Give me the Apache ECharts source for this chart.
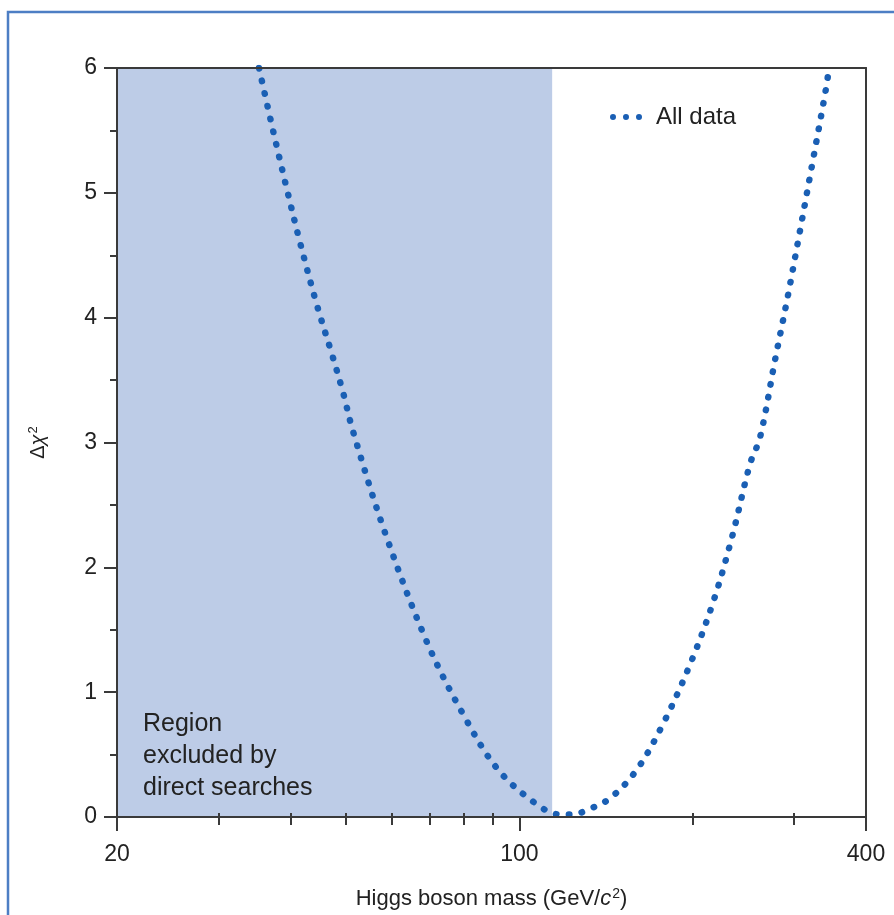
<!DOCTYPE html>
<html>
<head>
<meta charset="utf-8">
<script src="https://cdn.jsdelivr.net/npm/echarts@6/dist/echarts.min.js"></script>
<style>html,body{margin:0;padding:0;background:#fff;}#c{width:894px;height:915px;}</style>
</head>
<body>
<div id="c"></div>
<script>
// Higgs boson mass (GeV/c^2) and delta chi^2
const massValues = [35.3, 37.2, 39.5, 41.6, 44.5, 47.3, 49.4, 51.4, 58.4, 69.1, 79.8, 91.8, 107.3, 117.7, 123.9, 131, 143.7, 160, 177.6, 197.8, 217, 234, 251.6, 261.8, 278, 292.8, 307, 322, 341, 345];
const chi2Values = [6.0, 5.53, 5.02, 4.6, 4.1, 3.7, 3.40, 3.09, 2.28, 1.40, 0.825, 0.38, 0.10, 0.02, 0.02, 0.056, 0.15, 0.38, 0.745, 1.22, 1.72, 2.24, 2.83, 3.04, 3.66, 4.18, 4.69, 5.21, 5.84, 6.0];
const excludedRange = [20, 114];
const xMajorTicks = [20, 100, 400];
const xMinorTicks = [30, 40, 50, 60, 70, 80, 90, 200, 300];
const yRange = [0, 6];
const seriesName = 'All data';
const regionText = 'Region\nexcluded by\ndirect searches';

const FONT = '"Liberation Sans", Arial, Helvetica, sans-serif';
const AXIS_COLOR = '#3a3a3a';
const TEXT_COLOR = '#222';
const DOT_COLOR = '#1a5fb4';

const chart = echarts.init(document.getElementById('c'), null, {renderer: 'canvas'});
const lineData = massValues.map((m, i) => [m, chi2Values[i]]);

const option = {
  backgroundColor: '#fff',
  animation: false,
  textStyle: {fontFamily: FONT},
  grid: {left: 117, right: 28, top: 68, bottom: 98, containLabel: false},
  legend: {
    left: 605, top: 100,
    data: [{name: seriesName, icon: 'path://M0,3a3,3 0 1,0 6,0a3,3 0 1,0 -6,0zM13,3a3,3 0 1,0 6,0a3,3 0 1,0 -6,0zM26,3a3,3 0 1,0 6,0a3,3 0 1,0 -6,0z'}],
    itemWidth: 32, itemHeight: 6,
    itemStyle: {color: DOT_COLOR},
    textStyle: {fontFamily: FONT, fontSize: 24, color: TEXT_COLOR, padding: [0, 0, 0, 9]}
  },
  xAxis: [
    {
      type: 'log', logBase: 10, min: 20, max: 400, position: 'bottom', z: 5,
      axisLine: {show: true, lineStyle: {color: AXIS_COLOR, width: 2}},
      axisTick: {show: true, customValues: xMajorTicks, length: 14, lineStyle: {color: AXIS_COLOR, width: 2}},
      axisLabel: {show: true, customValues: xMajorTicks, margin: 26, fontSize: 23, color: TEXT_COLOR, fontFamily: FONT},
      splitLine: {show: false}, minorTick: {show: false}, minorSplitLine: {show: false},
      name: '{t|Higgs boson mass (GeV/}{i|c}{s|2}{t|)}',
      nameLocation: 'middle', nameGap: 70,
      nameTextStyle: {
        rich: {
          t: {fontSize: 22, color: TEXT_COLOR, fontFamily: FONT},
          i: {fontSize: 22, color: TEXT_COLOR, fontFamily: FONT, fontStyle: 'italic'},
          s: {fontSize: 14, color: TEXT_COLOR, fontFamily: FONT, verticalAlign: 'top', padding: [0, 0, 10, 1]}
        }
      }
    },
    {
      type: 'log', logBase: 10, min: 20, max: 400, position: 'bottom', offset: -4, z: 5,
      axisLine: {show: false},
      axisTick: {show: true, customValues: xMinorTicks, length: 12, lineStyle: {color: AXIS_COLOR, width: 2}},
      axisLabel: {show: false},
      splitLine: {show: false}
    },
    {
      type: 'log', logBase: 10, min: 20, max: 400, position: 'top', z: 5,
      axisLine: {show: true, lineStyle: {color: AXIS_COLOR, width: 2}},
      axisTick: {show: false}, axisLabel: {show: false}, splitLine: {show: false}
    }
  ],
  yAxis: [
    {
      type: 'value', min: yRange[0], max: yRange[1], interval: 1, position: 'left', z: 5,
      axisLine: {show: true, lineStyle: {color: AXIS_COLOR, width: 2}},
      axisTick: {show: true, length: 13, lineStyle: {color: AXIS_COLOR, width: 2}},
      minorTick: {show: true, splitNumber: 2, length: 7, lineStyle: {color: AXIS_COLOR, width: 2}},
      axisLabel: {margin: 20, fontSize: 23, color: TEXT_COLOR, fontFamily: FONT},
      splitLine: {show: false},
      name: '{t|Δ}{i|χ}{s|2}',
      nameLocation: 'middle', nameRotate: 90, nameGap: 68,
      nameTextStyle: {
        rich: {
          t: {fontSize: 20, color: TEXT_COLOR, fontFamily: FONT},
          i: {fontSize: 20, color: TEXT_COLOR, fontFamily: FONT, fontStyle: 'italic'},
          s: {fontSize: 13, color: TEXT_COLOR, fontFamily: FONT, verticalAlign: 'top', padding: [0, 0, 9, 1]}
        }
      }
    },
    {
      type: 'value', min: yRange[0], max: yRange[1], position: 'right', z: 5,
      axisLine: {show: true, lineStyle: {color: AXIS_COLOR, width: 2}},
      axisTick: {show: false}, axisLabel: {show: false}, splitLine: {show: false}
    }
  ],
  series: [
    {
      name: seriesName,
      type: 'line',
      xAxisIndex: 0, yAxisIndex: 0,
      data: lineData,
      smooth: 0.35,
      showSymbol: false,
      symbol: 'none',
      clip: true,
      z: 3,
      lineStyle: {color: DOT_COLOR, width: 6.5, type: [0.5, 12.5], cap: 'round'},
      itemStyle: {color: DOT_COLOR},
      markArea: {
        silent: true,
        itemStyle: {color: '#bdcce7', opacity: 1},
        label: {show: false},
        data: [[{xAxis: excludedRange[0]}, {xAxis: excludedRange[1]}]]
      }
    }
  ],
  graphic: [
    {
      type: 'rect', silent: true, z: 100,
      shape: {x: 8, y: 12, width: 1000, height: 1000},
      style: {fill: 'none', stroke: '#4d7ec4', lineWidth: 2.5}
    },
    {
      type: 'text', silent: true, z: 100, left: 143, top: 708,
      style: {text: regionText, font: '25px ' + FONT, fill: TEXT_COLOR, lineHeight: 32}
    }
  ]
};
chart.setOption(option);
</script>
</body>
</html>
